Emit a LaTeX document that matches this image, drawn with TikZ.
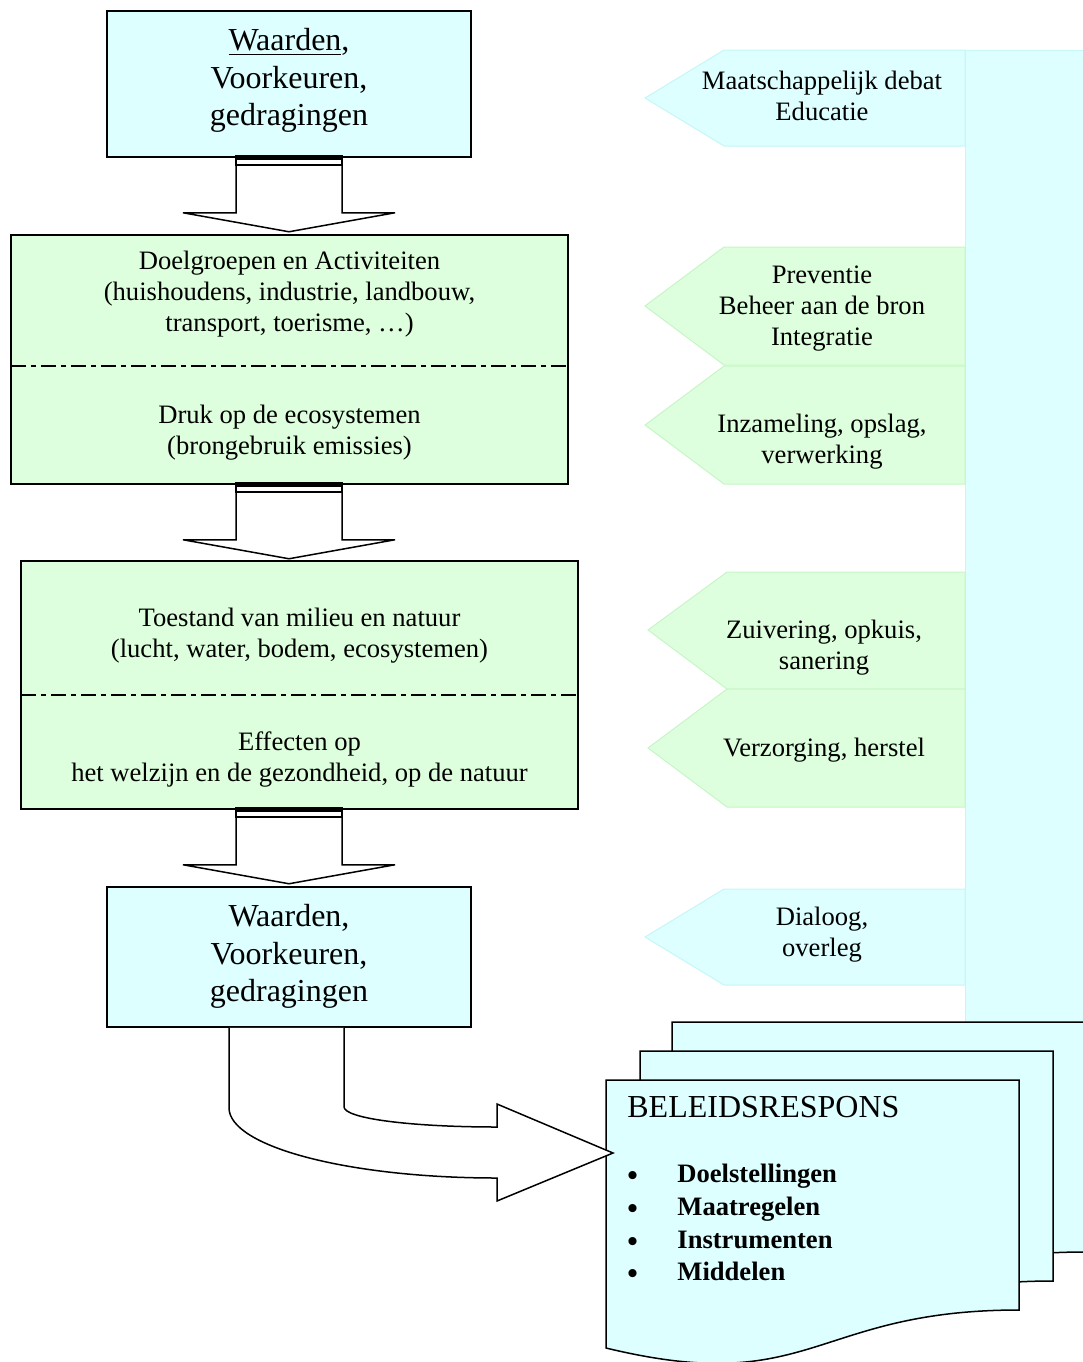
\documentclass[tikz,border=0pt]{standalone}
\usepackage{fontspec}
\setmainfont{Liberation Serif}
\usetikzlibrary{calc}
\definecolor{paleCyan}{HTML}{DDFFFF}
\definecolor{paleCyanEdge}{HTML}{C6F6F6}
\definecolor{paleGreen}{HTML}{DDFFDD}
\definecolor{paleGreenEdge}{HTML}{C6F6C6}

% one sheet of the document stack, top-left corner at (#1,#2)
\newcommand\docsheet[2]{%
  \filldraw[sheet, shift={(#1,#2)}]
    (0,0) -- (413,0) -- (413,230)
    .. controls (206.5,230) and (206.5,318) .. (0,268) -- cycle;}

% bullet followed by the list indent
\newcommand\listbullet{\makebox[25pt][l]{\fontsize{15}{0}\selectfont\raisebox{-1.5pt}{\textbullet}}}

\tikzset{
  pics/downarrow/.style={code={
    \filldraw[fill=white, draw=black, line width=0.75pt]
      (-53,9) -- (53,9) -- (53,57) -- (106,57) -- (0,76)
      -- (-106,57) -- (-53,57) -- cycle;
    \filldraw[fill=white, draw=black, line width=0.75pt] (-53,0) rectangle (53,9);
    \fill[black] (-53,0) rectangle (53,4.5);
  }}
}

\begin{document}
\begin{tikzpicture}[x=0.5pt,y=-0.5pt,
  box/.style={draw=black, line width=0.75pt, inner sep=0pt, anchor=center},
  cyanbox/.style={box, fill=paleCyan},
  greenbox/.style={box, fill=paleGreen},
  bigtext/.style={font=\fontsize{16}{18.7}\selectfont, align=center, inner sep=0pt},
  bodytext/.style={font=\fontsize{13.3}{15.5}\selectfont, align=center, inner sep=0pt},
  divider/.style={line width=1pt, dash pattern=on 7.5pt off 2.5pt on 2.5pt off 2.5pt},
  cyantab/.style={fill=paleCyan, draw=paleCyanEdge, line width=0.5pt},
  greentab/.style={fill=paleGreen, draw=paleGreenEdge, line width=0.5pt},
  sheet/.style={fill=paleCyan, draw=black, line width=0.75pt},
  flow/.style={fill=white, draw=black, line width=0.75pt},
]
\useasboundingbox (0,0) rectangle (1083,1362);
\clip (0,0) rectangle (1083,1362);

% policy column on the right
\path[fill=paleCyan, draw=paleCyanEdge, line width=0.5pt] (965,50) rectangle (1095,1100);

% instrument tabs pointing left
\path[cyantab]  (645,98)  -- (724,50)  -- (965,50)  -- (965,146) -- (724,146) -- cycle;
\path[greentab] (645,306) -- (724,247) -- (965,247) -- (965,365) -- (724,365) -- cycle;
\path[greentab] (645,425) -- (724,366) -- (965,366) -- (965,484) -- (724,484) -- cycle;
\path[greentab] (648,630) -- (727,572) -- (965,572) -- (965,689) -- (727,689) -- cycle;
\path[greentab] (648,748) -- (727,689) -- (965,689) -- (965,807) -- (727,807) -- cycle;
\path[cyantab]  (645,937) -- (724,889) -- (965,889) -- (965,985) -- (724,985) -- cycle;

\node[bodytext] (t1) at (822,96) {Maatschappelijk debat\\Educatie};
\node[bodytext] (t2) at (822,308.5) {Preventie\\Beheer aan de bron\\Integratie};
\node[bodytext] (t3) at (822,441.5) {Inzameling, opslag,\\verwerking};
\node[bodytext] (t4) at (824,647.5) {Zuivering, opkuis,\\sanering};
\node[bodytext] (t5) at (824,750.5) {Verzorging, herstel};
\node[bodytext] (t6) at (822,934.5) {Dialoog,\\overleg};

% chain of boxes
\node[cyanbox,  minimum width=182pt,   minimum height=73pt]    (b1) at (289,84) {};
\node[greenbox, minimum width=278.5pt, minimum height=124.5pt] (b2) at (289.5,359.5) {};
\node[greenbox, minimum width=278.5pt, minimum height=124pt]   (b3) at (299.5,685) {};
\node[cyanbox,  minimum width=182pt,   minimum height=70pt]    (b4) at (289,957) {};

\draw[divider] (11,366) -- (568,366);
\draw[divider] (21,695) -- (578,695);

\node[bigtext] (v1) at (289,80.5) {\underline{Waarden},\\Voorkeuren,\\gedragingen};
\node[bodytext] (d1) at (289.5,294.5) {Doelgroepen en Activiteiten\\(huishoudens, industrie, landbouw,\\transport, toerisme, \dots)};
\node[bodytext] (d2) at (289.5,433) {Druk op de ecosystemen\\(brongebruik emissies)};
\node[bodytext] (s1) at (299.5,636) {Toestand van milieu en natuur\\(lucht, water, bodem, ecosystemen)};
\node[bodytext] (s2) at (299.5,759) {Effecten op\\het welzijn en de gezondheid, op de natuur};
\node[bigtext] (v2) at (289,956.5) {Waarden,\\Voorkeuren,\\gedragingen};

% block arrows between the boxes
\pic at ($(b1.south)+(0,-2)$) {downarrow};
\pic at ($(b2.south -| b1.south)+(0,-2)$) {downarrow};
\pic at ($(b3.south -| b4.north)+(0,-2)$) {downarrow};

% stack of policy documents
\docsheet{672}{1022}
\docsheet{640}{1051}
\docsheet{606}{1080}
\node[minimum width=206.5pt, minimum height=115pt, inner sep=0pt, anchor=north west] (doc) at (606,1080) {};

\node[anchor=base west, inner sep=0pt, font=\fontsize{16}{19}\selectfont] (title)
  at ($(doc.north west)+(21,37)$) {BELEIDSRESPONS};
% the base anchor of this list sits on its last line
\node[anchor=base west, inner sep=0pt, align=left,
      font=\fontsize{13.3}{16.35}\selectfont\bfseries] (items)
  at ($(doc.north west)+(21,200.8)$)
  {\listbullet Doelstellingen\\\listbullet Maatregelen\\\listbullet Instrumenten\\\listbullet Middelen};

% curved block arrow from the lower box into the documents
\coordinate (outerTop) at ($(b4.south)+(-60,0)$);
\coordinate (innerTop) at ($(b4.south)+(55,0)$);
\coordinate (tip) at ($(doc.north west)+(7,73)$);
\filldraw[flow]
  (outerTop) -- ++(0,80)
  .. controls +(0,39) and +(-148,0) .. ($(tip)+(-116,25)$)
  -- ++(0,23) -- (tip) -- ($(tip)+(-116,-49)$) -- ++(0,23)
  .. controls +(-84,0) and +(0,12) .. ($(innerTop)+(0,79)$)
  -- (innerTop);
\end{tikzpicture}
\end{document}
